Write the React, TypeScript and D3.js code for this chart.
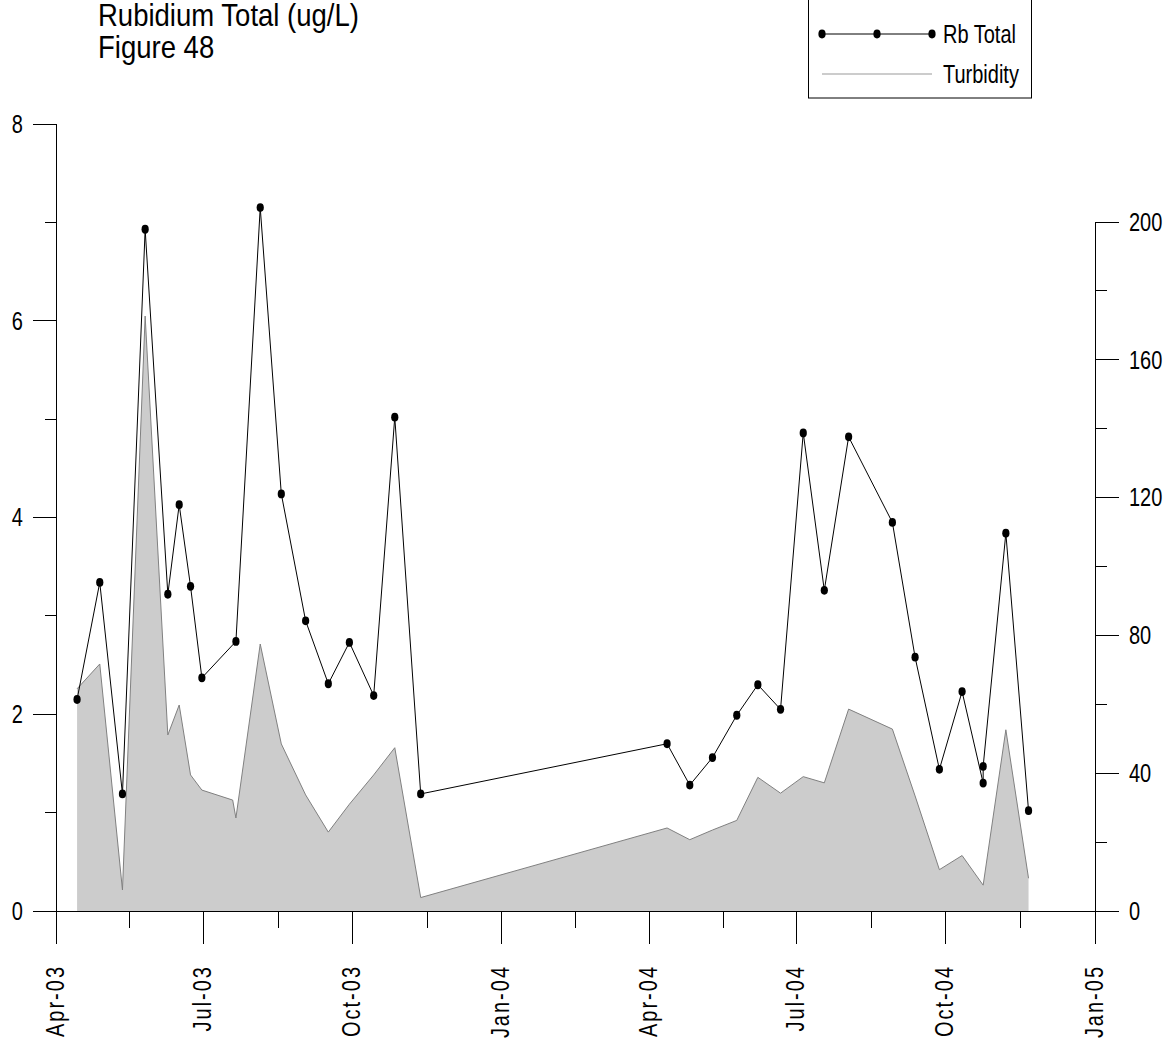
import React from "react";
import * as d3 from "d3";

// ---------- data ----------
const rbDates = [
  "2003-04-14", "2003-04-28", "2003-05-12", "2003-05-26", "2003-06-09", "2003-06-16",
  "2003-06-23", "2003-06-30", "2003-07-21", "2003-08-05", "2003-08-18", "2003-09-02",
  "2003-09-16", "2003-09-29", "2003-10-14", "2003-10-27", "2003-11-12",
  "2004-04-12", "2004-04-26", "2004-05-10", "2004-05-25", "2004-06-07", "2004-06-21",
  "2004-07-05", "2004-07-18", "2004-08-02", "2004-08-29", "2004-09-12", "2004-09-27",
  "2004-10-11", "2004-10-24", "2004-10-24", "2004-11-07", "2004-11-21",
];
const rbValues = [
  2.15, 3.34, 1.19, 6.93, 3.22, 4.13, 3.30, 2.37, 2.74, 7.15, 4.24, 2.95,
  2.31, 2.73, 2.19, 5.02, 1.19,
  1.70, 1.28, 1.56, 1.99, 2.30, 2.05, 4.86, 3.26, 4.82, 3.95, 2.58, 1.44,
  2.23, 1.30, 1.47, 3.84, 1.02,
];

const turbDates = [
  "2003-04-14", "2003-04-28", "2003-05-12", "2003-05-26", "2003-06-09", "2003-06-16",
  "2003-06-23", "2003-06-30", "2003-07-19", "2003-07-21", "2003-08-05", "2003-08-18",
  "2003-09-02", "2003-09-16", "2003-09-29", "2003-10-14", "2003-10-27", "2003-11-12",
  "2004-04-12", "2004-04-26", "2004-05-10", "2004-05-25", "2004-06-07", "2004-06-21",
  "2004-07-05", "2004-07-18", "2004-08-02", "2004-08-29", "2004-09-12", "2004-09-27",
  "2004-10-11", "2004-10-24", "2004-11-07", "2004-11-21",
];
const turbValues = [
  64.5, 71.7, 6.1, 172.7, 51.1, 59.8, 39.5, 35.1, 32.2, 27.0, 77.5, 48.5,
  33.7, 22.9, 31.0, 39.5, 47.4, 3.9,
  24.1, 20.7, 23.5, 26.3, 38.8, 34.2, 39.0, 37.2, 58.6, 52.8, 33.4, 12.0,
  16.1, 7.5, 52.6, 9.5,
];

const leftTicks = [0, 2, 4, 6, 8];
const leftMinor = [1, 3, 5, 7];
const rightTicks = [0, 40, 80, 120, 160, 200];
const rightMinor = [20, 60, 100, 140, 180];

const titleLines = ["Rubidium Total (ug/L)", "Figure 48"];
const legendLabels = ["Rb Total", "Turbidity"];

// ---------- layout ----------
const W = 1171;
const H = 1041;
const FONT = "'Liberation Sans', Arial, sans-serif";
const SQ = 0.8; // horizontal condensing of the narrow font

const parse = (s: string) => new Date(s + "T00:00:00Z");

function NText(props: {
  x: number;
  y: number;
  size: number;
  sx?: number;
  rot?: number;
  anchor?: string;
  dy?: string;
  ls?: number;
  children: React.ReactNode;
}) {
  const { x, y, size, sx = SQ, rot = 0, anchor = "start", dy, ls, children } = props;
  return (
    <text
      transform={`translate(${x},${y}) rotate(${rot}) scale(${sx},1)`}
      fontSize={size}
      textAnchor={anchor}
      dy={dy}
      letterSpacing={ls}
      fill="#000"
    >
      {children}
    </text>
  );
}

export default function App() {
  const x = d3
    .scaleUtc()
    .domain([new Date(Date.UTC(2003, 3, 1)), new Date(Date.UTC(2005, 0, 1))])
    .range([56, 1095]);
  const yL = d3.scaleLinear().domain([0, 8]).range([911, 124]);
  const yR = d3.scaleLinear().domain([0, 200]).range([911, 222]);

  const majorTicks = x.ticks(d3.utcMonth.every(3) as any);
  const minorTicks: Date[] = [];
  for (let i = 0; i < majorTicks.length - 1; i++) {
    minorTicks.push(new Date((majorTicks[i].getTime() + majorTicks[i + 1].getTime()) / 2));
  }
  const fmt = d3.utcFormat("%b-%y");

  const rb = rbDates.map((d, i) => ({ d: parse(d), v: rbValues[i] }));
  const turb = turbDates.map((d, i) => ({ d: parse(d), v: turbValues[i] }));

  const area = d3
    .area<{ d: Date; v: number }>()
    .x((p) => x(p.d))
    .y0(yR(0))
    .y1((p) => yR(p.v));
  const turbLine = d3
    .line<{ d: Date; v: number }>()
    .x((p) => x(p.d))
    .y((p) => yR(p.v));
  const rbLine = d3
    .line<{ d: Date; v: number }>()
    .x((p) => x(p.d))
    .y((p) => yL(p.v));

  const x0 = x.range()[0];
  const x1 = x.range()[1];
  const base = yL(0);

  return (
    <svg
      width={W}
      height={H}
      style={{ position: "absolute", left: 0, top: 0, background: "#fff" }}
      fontFamily={FONT}
    >
      {/* title */}
      <NText x={98} y={26} size={32} sx={0.86}>
        {titleLines[0]}
      </NText>
      <NText x={98} y={58} size={32} sx={0.86}>
        {titleLines[1]}
      </NText>

      {/* turbidity area */}
      <path d={area(turb) || ""} fill="#cccccc" stroke="none" />
      <path d={turbLine(turb) || ""} fill="none" stroke="#808080" strokeWidth={1} />

      {/* axes */}
      <g stroke="#000" strokeWidth={1} shapeRendering="crispEdges">
        <line x1={x0 - 23} x2={x1 + 24} y1={base} y2={base} />
        {majorTicks.map((t, i) => (
          <line key={"M" + i} x1={x(t)} x2={x(t)} y1={base} y2={base + 33} />
        ))}
        {minorTicks.map((t, i) => (
          <line key={"m" + i} x1={x(t)} x2={x(t)} y1={base} y2={base + 17} />
        ))}
        <line x1={x0} x2={x0} y1={yL(8)} y2={base + 33} />
        {leftTicks.map((t) => (
          <line key={"L" + t} x1={x0 - 23} x2={x0} y1={yL(t)} y2={yL(t)} />
        ))}
        {leftMinor.map((t) => (
          <line key={"l" + t} x1={x0 - 11} x2={x0} y1={yL(t)} y2={yL(t)} />
        ))}
        <line x1={x1} x2={x1} y1={yR(200)} y2={base + 33} />
        {rightTicks.map((t) => (
          <line key={"R" + t} x1={x1} x2={x1 + 24} y1={yR(t)} y2={yR(t)} />
        ))}
        {rightMinor.map((t) => (
          <line key={"r" + t} x1={x1} x2={x1 + 12} y1={yR(t)} y2={yR(t)} />
        ))}
      </g>

      {/* tick labels */}
      {leftTicks.map((t) => (
        <NText key={"LT" + t} x={x0 - 33} y={yL(t)} size={25} anchor="end" dy="0.35em">
          {t}
        </NText>
      ))}
      {rightTicks.map((t) => (
        <NText key={"RT" + t} x={x1 + 34} y={yR(t)} size={25} dy="0.35em">
          {t}
        </NText>
      ))}
      {majorTicks.map((t, i) => (
        <NText
          key={"XT" + i}
          x={x(t)}
          y={base + 54}
          size={25}
          rot={-90}
          anchor="end"
          dy="0.3em"
          ls={2.5}
        >
          {fmt(t)}
        </NText>
      ))}

      {/* Rb line */}
      <path d={rbLine(rb) || ""} fill="none" stroke="#000" strokeWidth={1} />
      {rb.map((p, i) => (
        <ellipse key={"d" + i} cx={x(p.d)} cy={yL(p.v)} rx={3.6} ry={4.4} fill="#000" />
      ))}

      {/* legend */}
      <g>
        <rect x={808.5} y={-1} width={223} height={99} fill="#fff" stroke="#000" strokeWidth={1} />
        <line x1={822} x2={932} y1={34} y2={34} stroke="#000" strokeWidth={1} />
        {[822, 877, 932].map((cx) => (
          <ellipse key={cx} cx={cx} cy={34} rx={3.6} ry={4.4} fill="#000" />
        ))}
        <NText x={943} y={34} size={25} dy="0.35em">
          {legendLabels[0]}
        </NText>
        <line x1={822} x2={932} y1={74} y2={74} stroke="#999" strokeWidth={1} />
        <NText x={943} y={74} size={25} dy="0.35em">
          {legendLabels[1]}
        </NText>
      </g>
    </svg>
  );
}
